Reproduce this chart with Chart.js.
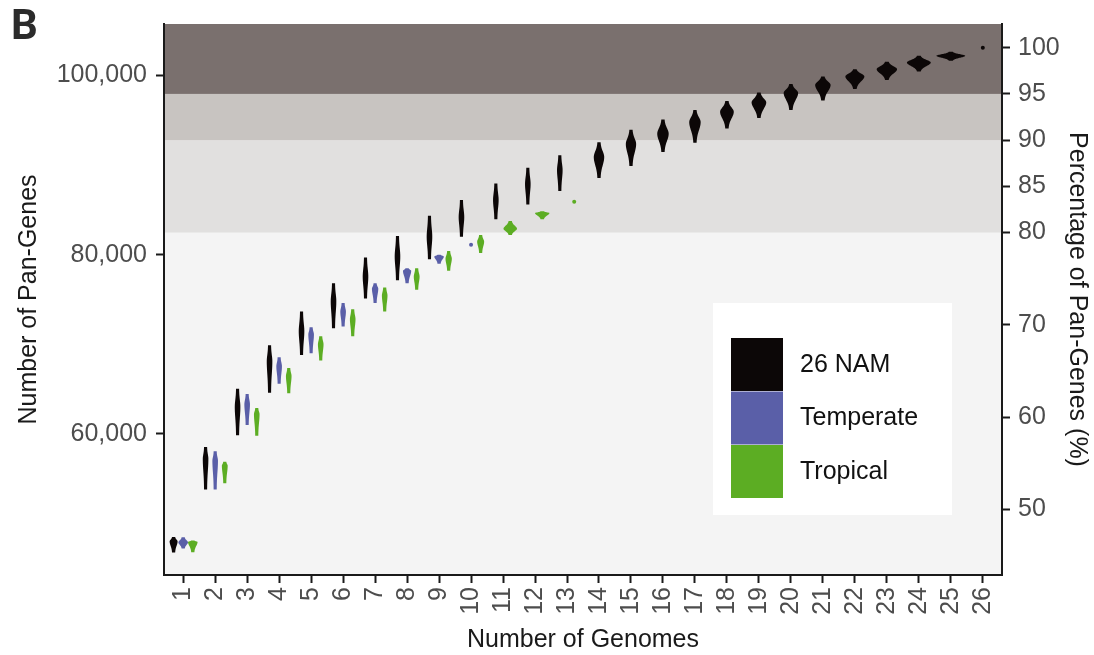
<!DOCTYPE html>
<html>
<head>
<meta charset="utf-8">
<script src="https://cdn.jsdelivr.net/npm/chart.js@4.4.1/dist/chart.umd.min.js"></script>
<style>
  body { margin: 0; background: #fff; }
</style>
</head>
<body>
<canvas id="panChart" width="1094" height="655"></canvas>
<script>
// Number of genomes sampled (x axis)
var genomes = [1, 2, 3, 4, 5, 6, 7, 8, 9, 10, 11, 12, 13, 14, 15, 16, 17, 18, 19, 20, 21, 22, 23, 24, 25, 26];

// 26 NAM: min, max and widest point of each violin
var namLo   = [46750, 53800, 59850, 64600, 68800, 71800, 75100, 77150, 79500, 82000, 83950, 85600, 87100, 88550, 89900, 91450, 92500, 94100, 95250, 96150, 97200, 98500, 99500, 100450, 101650, 103100];
var namHi   = [48500, 58550, 65050, 69900, 73650, 76800, 79700, 82100, 84350, 86100, 87950, 89700, 91100, 92550, 93950, 95100, 96150, 97150, 98100, 99050, 99900, 100700, 101550, 102200, 102650, 103100];
var namMode = [48000, 57200, 63000, 68100, 71450, 74800, 77550, 79800, 82000, 84200, 86100, 87900, 89450, 90900, 92350, 93500, 94800, 95950, 97000, 98050, 98950, 99900, 100700, 101450, 102200, 103100];

// Temperate lines (10 genomes)
var tempLo   = [47200, 53800, 61000, 65600, 69000, 72000, 74600, 76800, 79000, 81100, null, null, null, null, null, null, null, null, null, null, null, null, null, null, null, null];
var tempHi   = [48450, 58050, 64450, 68550, 71900, 74600, 76800, 78500, 80000, 81100, null, null, null, null, null, null, null, null, null, null, null, null, null, null, null, null];
var tempMode = [47900, 57000, 63300, 67550, 71100, 73650, 76200, 78200, 79800, 81100, null, null, null, null, null, null, null, null, null, null, null, null, null, null, null, null];

// Tropical lines (13 genomes)
var tropLo   = [46800, 54500, 59800, 64550, 68200, 70900, 73650, 76100, 78200, 80200, 82200, 83950, 85900, null, null, null, null, null, null, null, null, null, null, null, null, null];
var tropHi   = [48100, 56900, 62900, 67350, 70900, 73900, 76350, 78500, 80400, 82200, 83750, 84850, 85900, null, null, null, null, null, null, null, null, null, null, null, null, null];
var tropMode = [47950, 56450, 62200, 66450, 70000, 72800, 75450, 77550, 79550, 81450, 82900, 84650, 85900, null, null, null, null, null, null, null, null, null, null, null, null, null];

var yTicks = [60000, 80000, 100000];
var pctTicks = [50, 60, 70, 80, 85, 90, 95, 100];
var bandPct = [80, 90, 95];
var panTotal = namMode[namMode.length - 1]; // all 26 genomes = 100 %
var yMin = 44250, yMax = 105750;

Chart.defaults.font.family = "'Liberation Sans', Arial, sans-serif";

function series(lo, hi, mode) {
    var pts = [];
    for (var i = 0; i < genomes.length; i++) {
        if (mode[i] == null) continue;
        pts.push({x: genomes[i], y: mode[i], lo: lo[i], hi: hi[i]});
    }
    return pts;
}

// shaded bands behind the plot
var bandPlugin = {
    id: 'bands',
    beforeDraw: function(chart) {
        var a = chart.chartArea, ctx = chart.ctx, ys = chart.scales.y;
        var colors = ['#e1e0df', '#c8c4c1', '#7a706e'];
        ctx.save();
        ctx.fillStyle = '#f4f4f4';
        ctx.fillRect(a.left, a.top, a.right - a.left, a.bottom - a.top);
        for (var i = 0; i < bandPct.length; i++) {
            var lo = ys.getPixelForValue(bandPct[i] / 100 * panTotal);
            var hi = i + 1 < bandPct.length ? ys.getPixelForValue(bandPct[i + 1] / 100 * panTotal) : a.top;
            ctx.fillStyle = colors[i];
            ctx.fillRect(a.left, hi, a.right - a.left, lo - hi);
        }
        // panel letter
        ctx.fillStyle = '#2b2b2b';
        ctx.font = "bold 42px Roboto, 'Liberation Sans', sans-serif";
        ctx.textBaseline = 'alphabetic';
        ctx.fillText('B', 11, 39);
        ctx.restore();
    }
};

function drawViolin(ctx, ys, cx, slotPx, p, color) {
    var top = ys.getPixelForValue(p.hi), bot = ys.getPixelForValue(p.lo), mid = ys.getPixelForValue(p.y);
    ctx.fillStyle = color;
    if (bot - top < 1) {
        ctx.beginPath();
        ctx.arc(cx, mid, 2, 0, 2 * Math.PI);
        ctx.fill();
        return;
    }
    var wMax = Math.max(2.8, Math.min(slotPx / 2, 6.5 * slotPx / (bot - top)));
    var tail = 1.5, steps = 50, right = [], left = [];
    for (var s = 0; s <= steps; s++) {
        var py = top + (bot - top) * s / steps;
        var d = py - mid;
        var D = d < 0 ? mid - top : bot - mid;
        var u = D > 0 ? d / (0.55 * D) : 0;
        var w = tail + (wMax - tail) * Math.exp(-u * u);
        right.push([cx + w, py]);
        left.push([cx - w, py]);
    }
    ctx.beginPath();
    ctx.moveTo(right[0][0], right[0][1]);
    for (var r = 1; r < right.length; r++) ctx.lineTo(right[r][0], right[r][1]);
    for (var l = left.length - 1; l >= 0; l--) ctx.lineTo(left[l][0], left[l][1]);
    ctx.closePath();
    ctx.fill();
}

// violins, dodged by how many groups exist at each genome count
var violinPlugin = {
    id: 'violins',
    afterDatasetsDraw: function(chart) {
        var ctx = chart.ctx, xs = chart.scales.x, ys = chart.scales.y, a = chart.chartArea;
        var unit = xs.getPixelForValue(2) - xs.getPixelForValue(1);
        ctx.save();
        ctx.beginPath();
        ctx.rect(a.left, a.top, a.right - a.left, a.bottom - a.top);
        ctx.clip();
        genomes.forEach(function(g) {
            var here = [];
            chart.data.datasets.forEach(function(ds) {
                ds.data.forEach(function(p) {
                    if (p.x === g) here.push({ds: ds, p: p});
                });
            });
            var slot = 0.9 / here.length;
            here.forEach(function(h, k) {
                var cx = xs.getPixelForValue(g - 0.45 + slot * (k + 0.5));
                drawViolin(ctx, ys, cx, slot * unit, h.p, h.ds.backgroundColor);
            });
        });
        ctx.restore();
    }
};

// legend box inside the plot
var legendPlugin = {
    id: 'boxLegend',
    afterDraw: function(chart) {
        var ctx = chart.ctx;
        ctx.save();
        ctx.fillStyle = '#ffffff';
        ctx.fillRect(713, 303, 239, 212);
        ctx.font = "25px 'Liberation Sans', Arial, sans-serif";
        ctx.textBaseline = 'middle';
        chart.data.datasets.forEach(function(ds, i) {
            ctx.fillStyle = ds.backgroundColor;
            ctx.fillRect(731, 338 + i * 53.5, 52, 53);
            ctx.fillStyle = '#111';
            ctx.fillText(ds.label, 800, 365 + i * 53.5);
        });
        ctx.restore();
    }
};

var tickGrid = {drawOnChartArea: false, drawTicks: true, tickLength: 8, tickWidth: 2, tickColor: '#1a1a1a'};
var axisBorder = {display: true, color: '#1a1a1a', width: 2};

new Chart(document.getElementById('panChart'), {
    type: 'scatter',
    data: {
        datasets: [
            {label: '26 NAM', data: series(namLo, namHi, namMode), backgroundColor: '#0c0707', pointRadius: 0, yAxisID: 'y'},
            {label: 'Temperate', data: series(tempLo, tempHi, tempMode), backgroundColor: '#5a5fa8', pointRadius: 0, yAxisID: 'y'},
            {label: 'Tropical', data: series(tropLo, tropHi, tropMode), backgroundColor: '#5cad23', pointRadius: 0, yAxisID: 'y'}
        ]
    },
    options: {
        responsive: false,
        animation: false,
        layout: {padding: {top: 22, left: 0, right: 0, bottom: 0}},
        plugins: {legend: {display: false}, tooltip: {enabled: false}},
        scales: {
            x: {
                type: 'linear', min: 0.4, max: 26.6,
                afterBuildTicks: function(s) { s.ticks = genomes.map(function(g) { return {value: g}; }); },
                afterFit: function(s) { s.height = 80; },
                grid: tickGrid,
                border: axisBorder,
                ticks: {minRotation: 90, maxRotation: 90, autoSkip: false, padding: 4, color: '#4d4d4d', font: {size: 25},
                        callback: function(v) { return String(v); }},
                title: {display: true, text: 'Number of Genomes', color: '#1a1a1a', font: {size: 25}, padding: {top: 0, bottom: 0}}
            },
            y: {
                type: 'linear', position: 'left', min: yMin, max: yMax,
                afterBuildTicks: function(s) { s.ticks = yTicks.map(function(v) { return {value: v}; }); },
                afterFit: function(s) { s.width = 164; },
                grid: tickGrid,
                border: axisBorder,
                ticks: {padding: 9, color: '#4d4d4d', font: {size: 25},
                        callback: function(v) { return v.toLocaleString('en-US'); }},
                title: {display: true, text: 'Number of Pan-Genes', color: '#1a1a1a', font: {size: 25}, padding: {top: 14, bottom: 0}}
            },
            y2: {
                type: 'linear', position: 'right', min: yMin / panTotal * 100, max: yMax / panTotal * 100,
                afterBuildTicks: function(s) { s.ticks = pctTicks.map(function(v) { return {value: v}; }); },
                afterFit: function(s) { s.width = 92; },
                grid: tickGrid,
                border: axisBorder,
                ticks: {padding: 8, color: '#4d4d4d', font: {size: 25}},
                title: {display: true, text: 'Percentage of Pan-Genes (%)', color: '#1a1a1a', font: {size: 25}, padding: {top: 2, bottom: 0}}
            }
        }
    },
    plugins: [bandPlugin, violinPlugin, legendPlugin]
});
</script>
</body>
</html>
